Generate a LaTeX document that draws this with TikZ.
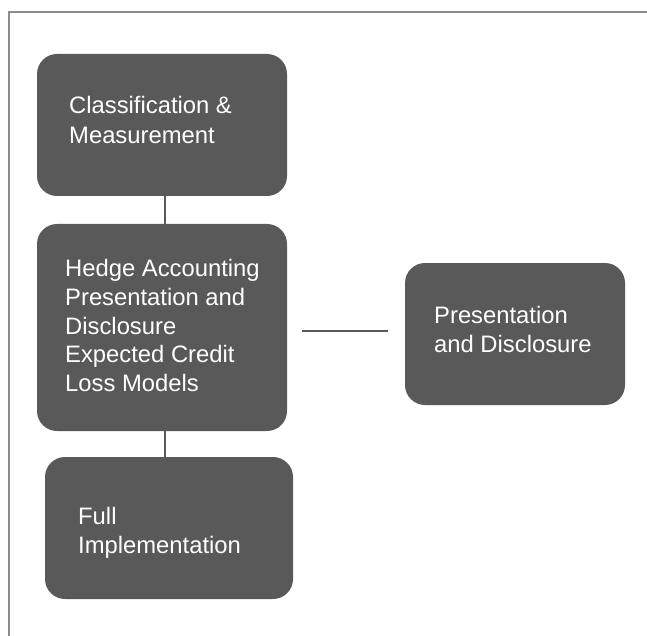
\documentclass[tikz,border=0pt]{standalone}
\usepackage{fontspec}
\setmainfont{Liberation Sans}
\definecolor{boxgray}{HTML}{595959}
\definecolor{framegray}{HTML}{8C8C8C}
\tikzset{
  box/.style={fill=boxgray, draw=none, rounded corners=20pt, inner sep=0pt},
  boxtext/.style={text=white, anchor=base west, align=left, inner sep=0pt, font=\fontsize{23.8}{29}\selectfont},
  link/.style={draw=boxgray, line width=2.2pt},
  frame/.style={draw=framegray, line width=2.2pt}
}
\begin{document}
\begin{tikzpicture}[x=1pt,y=-1pt]
\useasboundingbox (0,0) rectangle (647,636);
\draw[frame] (9,640) -- (9,12) -- (650,12);
\node[box, minimum width=250pt, minimum height=142pt] (b1) at (162,125) {};
\node[box, minimum width=250pt, minimum height=207pt] (b2) at (162,327.5) {};
\node[box, minimum width=248pt, minimum height=142pt] (b3) at (169,528) {};
\node[box, minimum width=220pt, minimum height=142pt] (b4) at (515,334) {};
\node[boxtext, font=\fontsize{23.8}{30}\selectfont] (t1) at (69,143.3) {Classification \&\\Measurement};
\node[boxtext, font=\fontsize{23.8}{28.75}\selectfont] (t2) at (65,391.7) {Hedge Accounting\\Presentation and\\Disclosure\\Expected Credit\\Loss Models};
\node[boxtext] (t3) at (78,553) {Full\\Implementation};
\node[boxtext] (t4) at (434,352) {Presentation\\and Disclosure};
\draw[link] ([xshift=3pt]b1.south) -- ([xshift=3pt]b2.north);
\draw[link] ([xshift=3pt]b2.south) -- ([xshift=3pt]b2.south |- b3.north);
\draw[link, shorten <=15pt, shorten >=17pt] (b2.east |- 0,331) -- (b4.west |- 0,331);
\end{tikzpicture}
\end{document}
